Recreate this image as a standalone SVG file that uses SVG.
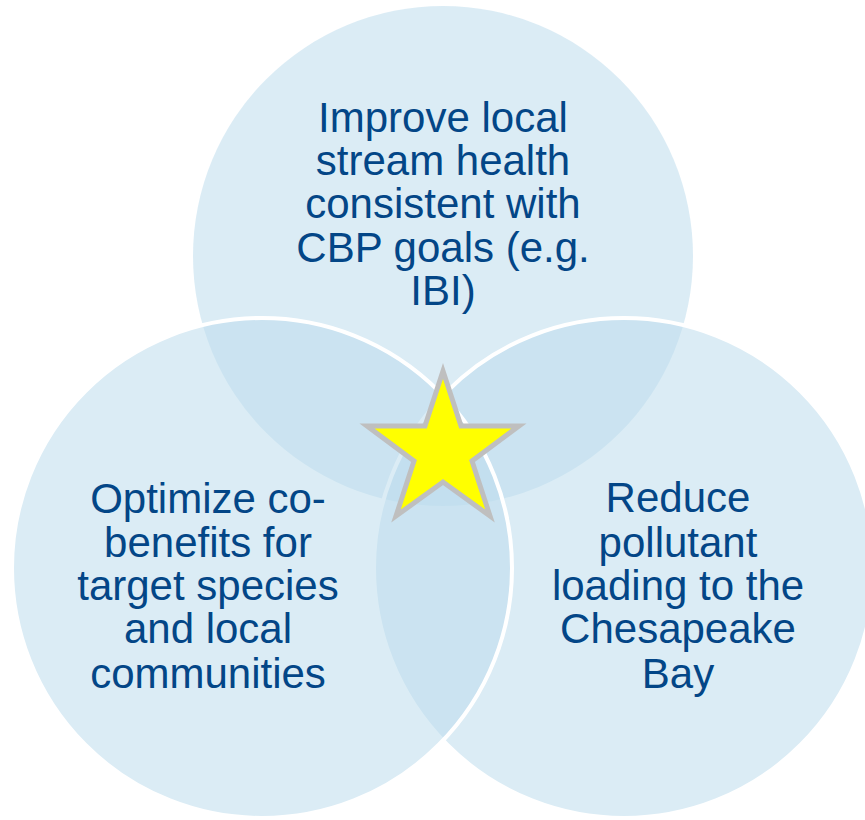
<svg xmlns="http://www.w3.org/2000/svg" width="865" height="820" viewBox="0 0 865 820">
  <style>
    .c { fill: #BDDCEC; fill-opacity: 0.55; }
    .s { stroke: #FFFFFF; stroke-width: 4; }
    .t { font-family: "Liberation Sans", Arial, sans-serif; font-size: 42px; fill: #034687; text-anchor: middle; }
    .star { fill: #FFFF00; stroke: #BFBFBF; stroke-width: 5; stroke-linejoin: miter; stroke-miterlimit: 10; }
  </style>
  <rect width="865" height="820" fill="#FFFFFF"/>
  <g id="node-top">
    <circle class="c" cx="443" cy="256" r="250"/>
    <text class="t" x="443" y="132">Improve local</text>
    <text class="t" x="443" y="175">stream health</text>
    <text class="t" x="443" y="218">consistent with</text>
    <text class="t" x="443" y="262">CBP goals (e.g.</text>
    <text class="t" x="443" y="305">IBI)</text>
  </g>
  <g id="node-right">
    <circle class="c s" cx="624" cy="568" r="250"/>
  </g>
  <g id="node-left">
    <circle class="c s" cx="262" cy="568" r="250"/>
  </g>
  <g id="labels">
    <text class="t" x="208" y="513">Optimize co-</text>
    <text class="t" x="208" y="557">benefits for</text>
    <text class="t" x="208" y="600">target species</text>
    <text class="t" x="208" y="643">and local</text>
    <text class="t" x="208" y="688">communities</text>
    <text class="t" x="678" y="512">Reduce</text>
    <text class="t" x="678" y="557">pollutant</text>
    <text class="t" x="678" y="600">loading to the</text>
    <text class="t" x="678" y="643">Chesapeake</text>
    <text class="t" x="678" y="688">Bay</text>
  </g>
  <g id="node-star">
    <polygon class="star" points="443,371 461,426 519,426 472,461 490,516 443,482 396,516 414,461 367,426 425,426"/>
  </g>
  <g id="connectors"></g>
</svg>
